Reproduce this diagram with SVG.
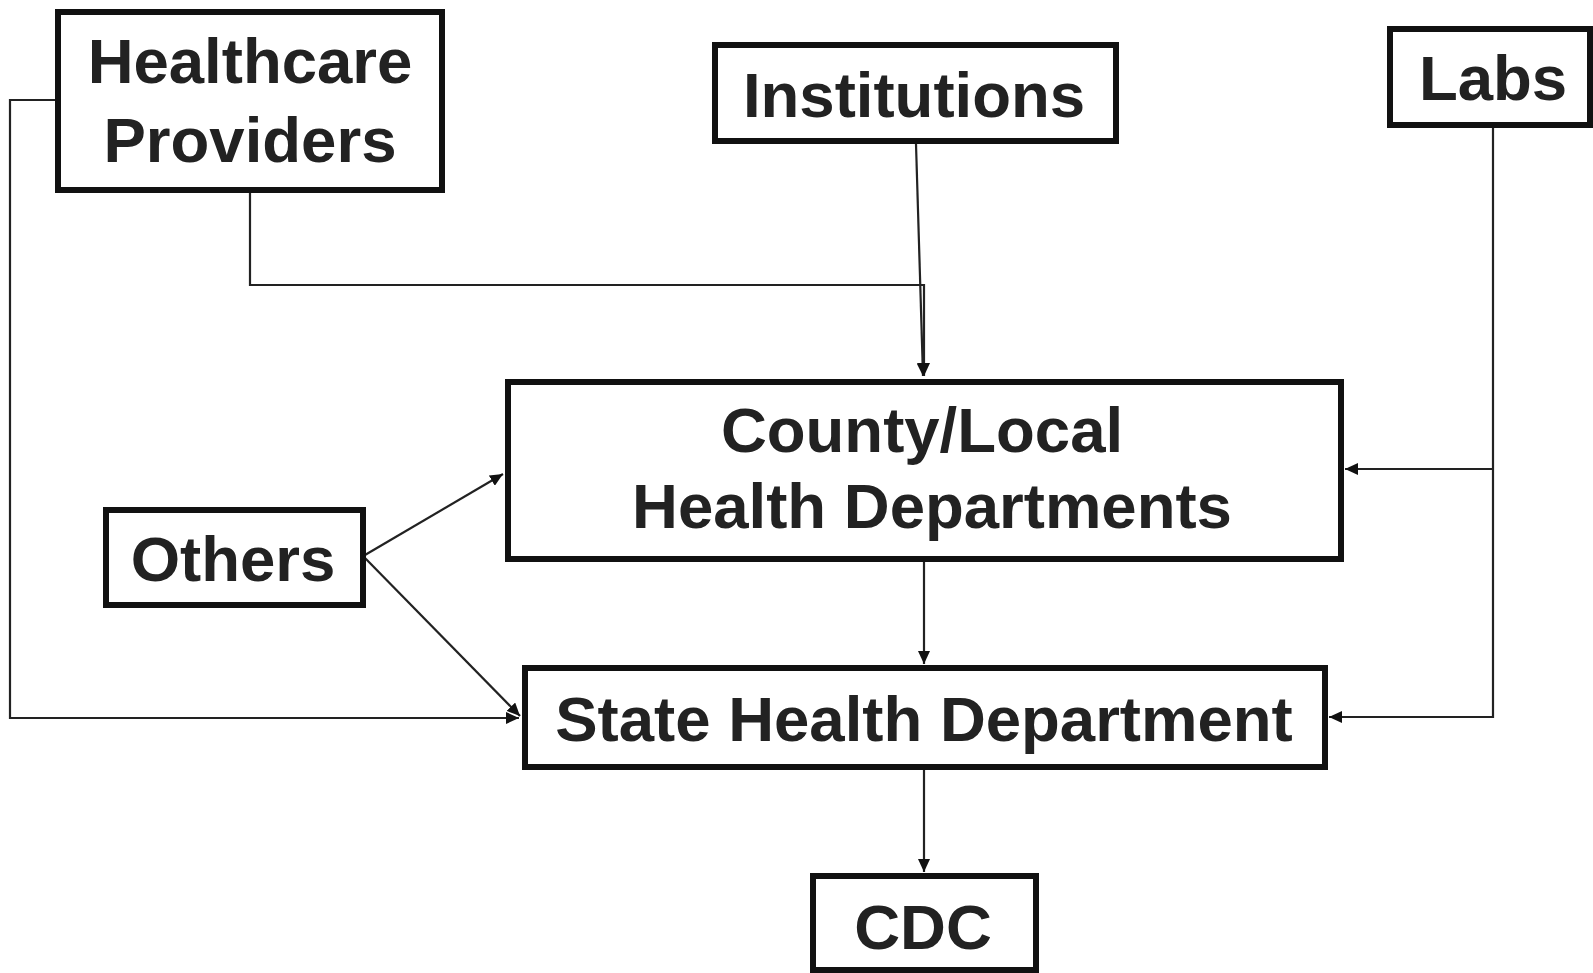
<svg xmlns="http://www.w3.org/2000/svg" width="1593" height="973" viewBox="0 0 1593 973">
<style>
.box{fill:#fff;stroke:#111;stroke-width:6}
.lbl{font-family:"Liberation Sans",Arial,sans-serif;font-weight:bold;font-size:63.5px;fill:#222;text-anchor:middle}
.con{fill:none;stroke:#222;stroke-width:2.2}
</style>
<defs>
<marker id="arr" markerUnits="userSpaceOnUse" markerWidth="14" markerHeight="12" refX="13" refY="6" orient="auto">
<path d="M0,0 L13,6 L0,12 Z" fill="#111"/>
</marker>
</defs>
<rect width="1593" height="973" fill="#fff"/>
<g id="connectors">
<polyline class="con" points="55,100 10,100 10,718 519,718" marker-end="url(#arr)"/>
<polyline class="con" points="250,193 250,285 924,285 924,376" marker-end="url(#arr)"/>
<line class="con" x1="916" y1="144" x2="923" y2="376" marker-end="url(#arr)"/>
<polyline class="con" points="1493,128 1493,717 1329,717" marker-end="url(#arr)"/>
<line class="con" x1="1493" y1="469" x2="1345" y2="469" marker-end="url(#arr)"/>
<line class="con" x1="365" y1="555" x2="503" y2="474" marker-end="url(#arr)"/>
<line class="con" x1="365" y1="558" x2="520" y2="716" marker-end="url(#arr)"/>
<line class="con" x1="924" y1="562" x2="924" y2="664" marker-end="url(#arr)"/>
<line class="con" x1="924" y1="770" x2="924" y2="872" marker-end="url(#arr)"/>
</g>
<g id="healthcare-providers">
<rect class="box" x="58" y="12" width="384" height="178"/>
<text class="lbl" x="250" y="83">Healthcare</text>
<text class="lbl" x="250" y="162">Providers</text>
</g>
<g id="institutions">
<rect class="box" x="715" y="45" width="401" height="96"/>
<text class="lbl" x="914" y="117">Institutions</text>
</g>
<g id="labs">
<rect class="box" x="1390" y="29" width="200" height="96"/>
<text class="lbl" x="1493" y="100">Labs</text>
</g>
<g id="county-local">
<rect class="box" x="508" y="382" width="833" height="177"/>
<text class="lbl" x="922" y="452">County/Local</text>
<text class="lbl" x="932" y="528">Health Departments</text>
</g>
<g id="others">
<rect class="box" x="106" y="510" width="257" height="95"/>
<text class="lbl" x="233" y="581">Others</text>
</g>
<g id="state">
<rect class="box" x="525" y="668" width="800" height="99"/>
<text class="lbl" x="924" y="741">State Health Department</text>
</g>
<g id="cdc">
<rect class="box" x="813" y="876" width="223" height="94"/>
<text class="lbl" x="923" y="949">CDC</text>
</g>
</svg>
